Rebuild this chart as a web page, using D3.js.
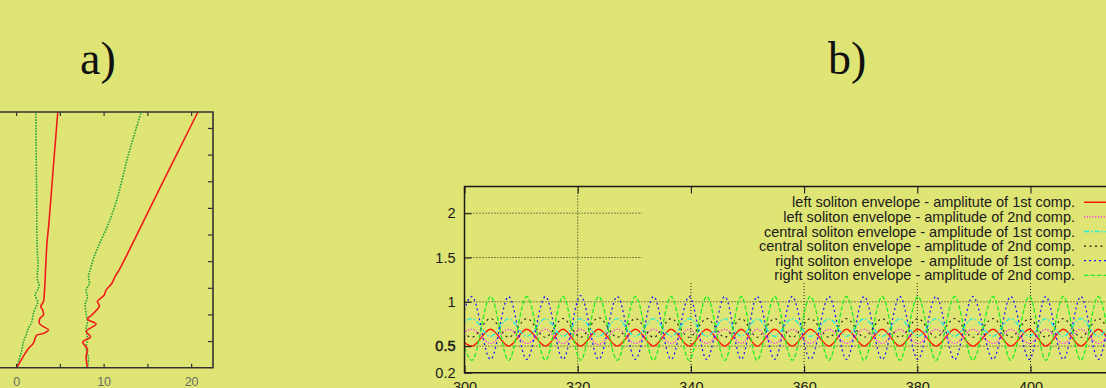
<!DOCTYPE html>
<html>
<head>
<meta charset="utf-8">
<script src="https://cdn.jsdelivr.net/npm/d3@7"></script>
<style>
  html, body { margin: 0; padding: 0; background: #dfe574; overflow: hidden; }
  svg { display: block; }
  text { font-family: "Liberation Sans", Arial, Helvetica, sans-serif; }
  .panel-label { font-family: "Liberation Serif", "Times New Roman", serif; font-size: 46px; fill: #111; }
  .tick-a text { font-size: 12.5px; fill: #6b6b6b; }
  .tick-b text { font-size: 14.5px; fill: #1a1a1a; }
  .legend text { font-size: 14.5px; fill: #1a1a1a; white-space: pre; }
</style>
</head>
<body>
<div id="chart"></div>
<script>
// ---- panel a): soliton trajectories, points are [x, t]
const trajGreenLeft = [[0.07,0],[0.38,1.8],[0.65,3.3],[0.84,4.9],[1.14,6.1],[1.41,7.4],[1.79,8.6],[1.98,10.2],
  [2.29,11.5],[2.48,12.4],[2.17,13.6],[2.44,14.6],[2.63,15.5],[2.44,16.5],[2.44,18.0],[2.51,19.3],[2.44,21.2],
  [2.38,24.3],[2.36,28],[2.33,34],[2.29,41],[2.25,48]];
const trajRedLeft = [[0.07,0],[0.46,1.1],[1.03,2.7],[1.41,3.6],[1.98,4.6],[2.17,5.5],[2.36,6.1],[3.05,6.4],
  [3.69,7.1],[3.12,7.7],[2.67,8.3],[2.74,9.3],[3.12,9.9],[3.05,10.8],[2.82,11.5],[3.12,12.4],[3.24,14.3],
  [3.39,19.3],[3.54,23.7],[3.73,26.8],[4.24,37.4],[4.76,48]];
const trajGreenRight = [[8.15,0],[8.27,1.8],[8.0,3.6],[8.15,5.5],[8.0,7.4],[8.15,8.6],[8.0,10.2],[7.89,11.8],
  [8.15,13.3],[8.0,14.6],[8.38,15.8],[8.27,17.1],[8.53,18.7],[8.84,20.5],[9.3,22.4],[9.9,24.6],[10.6,27.2],
  [11.5,31.5],[12.8,39.8],[14.29,48]];
const trajRedRight = [[8.15,0],[8.0,2.1],[8.15,3.5],[7.62,4.8],[8.5,5.8],[8.0,6.8],[9.14,8.2],[8.15,9.1],
  [8.65,9.9],[9.52,11.6],[9.29,12.4],[10.06,13.6],[10.29,14.6],[10.93,15.8],[11.31,17.1],[11.89,18.7],
  [16.3,33.3],[20.77,48]];
const aTicksX = [0, 5, 10, 15, 20];
const aLabelsX = [0, 10, 20];
const aTicksY = [5, 10, 15, 20, 25, 30, 35, 40, 45];

// ---- panel b): envelope amplitudes at the extrema (t values shared by all six curves)
const tExtrema = [298.1, 301.3, 304.6, 307.8, 311.0, 314.3, 317.4, 320.5, 323.7, 327.0, 330.2, 333.4, 336.5, 339.7,
  342.8, 346.0, 348.9, 351.7, 354.8, 357.9, 361.1, 364.4, 367.5, 370.6, 373.8, 376.9, 380.1, 383.3, 386.6, 389.8,
  393.4, 396.5, 399.8, 402.7, 405.8, 408.9, 412.0, 415.1, 418.2, 421.3];
const leftAmp1 = [0.69,0.50,0.69,0.50,0.69,0.50,0.69,0.50,0.69,0.50,0.69,0.50,0.69,0.50,0.69,0.50,0.69,0.50,0.69,0.50,
  0.69,0.50,0.69,0.50,0.69,0.50,0.69,0.50,0.69,0.50,0.69,0.50,0.69,0.50,0.69,0.50,0.69,0.50,0.69,0.50];
const leftAmp2 = [0.53,0.69,0.53,0.69,0.53,0.69,0.53,0.69,0.52,0.69,0.53,0.69,0.53,0.69,0.53,0.69,0.53,0.69,0.53,0.69,
  0.53,0.69,0.53,0.69,0.53,0.69,0.53,0.69,0.53,0.69,0.53,0.69,0.53,0.69,0.53,0.69,0.53,0.69,0.53,0.69];
const centralAmp1 = [0.61,0.81,0.61,0.81,0.61,0.81,0.61,0.81,0.61,0.81,0.61,0.81,0.61,0.81,0.61,0.81,0.61,0.81,0.61,0.81,
  0.61,0.81,0.61,0.81,0.61,0.81,0.61,0.81,0.61,0.81,0.61,0.81,0.61,0.81,0.61,0.81,0.61,0.81,0.61,0.81];
const centralAmp2 = [0.81,0.60,0.81,0.60,0.81,0.60,0.81,0.60,0.82,0.60,0.81,0.60,0.81,0.60,0.81,0.60,0.81,0.60,0.81,0.60,
  0.81,0.60,0.81,0.60,0.81,0.60,0.81,0.60,0.81,0.60,0.81,0.60,0.81,0.60,0.81,0.60,0.81,0.60,0.81,0.60];
const rightAmp1 = [0.35,1.06,0.35,1.06,0.35,1.06,0.35,1.07,0.35,1.06,0.35,1.06,0.35,1.06,0.35,1.06,0.35,1.06,0.35,1.06,
  0.35,1.06,0.35,1.06,0.35,1.06,0.35,1.06,0.35,1.06,0.35,1.06,0.35,1.06,0.35,1.06,0.35,1.06,0.35,1.06];
const rightAmp2 = [1.06,0.34,1.06,0.34,1.06,0.34,1.06,0.34,1.06,0.34,1.06,0.34,1.06,0.34,1.06,0.34,1.06,0.34,1.06,0.34,
  1.06,0.34,1.06,0.34,1.06,0.34,1.06,0.34,1.06,0.34,1.06,0.34,1.06,0.34,1.06,0.34,1.06,0.34,1.06,0.34];
const bTicksX = [300, 320, 340, 360, 380, 400, 420];
const bTicksY = [0.2, 0.5, 1, 1.5, 2];
const legendNames = [
  "left soliton envelope - amplitute of 1st comp.",
  "left soliton envelope - amplitude of 2nd comp.",
  "central soliton envelope - amplitude of 1st comp.",
  "central soliton envelope - amplitude of 2nd comp.",
  "right soliton envelope  - amplitude of 1st comp.",
  "right soliton envelope - amplitude of 2nd comp."
];

const W = 1106, H = 388;
const svg = d3.select('#chart').append('svg').attr('width', W).attr('height', H);

svg.append('text').attr('class', 'panel-label').attr('x', 80).attr('y', 74).text('a)');
svg.append('text').attr('class', 'panel-label').attr('x', 828).attr('y', 74).text('b)');

// ================= panel a =================
const xA = d3.scaleLinear().domain([-2.5, 22.5]).range([-5.75, 213]);
const yA = d3.scaleLinear().domain([0, 48]).range([367.7, 112]);
const gA = svg.append('g');

const lineA = d3.line().x(d => xA(d[0])).y(d => yA(d[1])).curve(d3.curveCatmullRom.alpha(0.5));
[
  { data: trajGreenLeft, color: '#23a83a', dash: '1.6,1.2' },
  { data: trajRedLeft, color: '#f01c1c', dash: null },
  { data: trajGreenRight, color: '#23a83a', dash: '1.6,1.2' },
  { data: trajRedRight, color: '#f01c1c', dash: null }
].forEach(s => {
  gA.append('path').attr('d', lineA(s.data)).attr('fill', 'none')
    .attr('stroke', s.color).attr('stroke-width', 1.6)
    .attr('stroke-dasharray', s.dash);
});

const axA = [
  d3.axisBottom(xA).tickValues(aTicksX).tickSizeInner(-4).tickSizeOuter(0).tickPadding(9)
    .tickFormat(d => aLabelsX.includes(d) ? d : ''),
  d3.axisTop(xA).tickValues(aTicksX).tickSizeInner(-4).tickSizeOuter(0).tickFormat(''),
  d3.axisRight(yA).tickValues(aTicksY).tickSizeInner(-5).tickSizeOuter(0).tickFormat('')
];
gA.append('g').attr('class', 'tick-a').attr('transform', 'translate(0,367.7)').call(axA[0]);
gA.append('g').attr('class', 'tick-a').attr('transform', 'translate(0,112)').call(axA[1]);
gA.append('g').attr('class', 'tick-a').attr('transform', 'translate(213,0)').call(axA[2]);
gA.selectAll('.domain').remove();
gA.selectAll('.tick line').attr('stroke', '#333').attr('stroke-width', 1.2);
gA.append('path')
  .attr('d', `M${xA.range()[0]},${yA(48)}H${xA(22.5)}V${yA(0)}H${xA.range()[0]}`)
  .attr('fill', 'none').attr('stroke', '#333').attr('stroke-width', 1.6);

// ================= panel b =================
const xB = d3.scaleLinear().domain([300, 420]).range([464.5, 1143.7]);
const yB = d3.scaleLinear().domain([0.2, 2.3]).range([372.7, 186.6]);
const gB = svg.append('g');
const keyLeft = 642, keyBottom = 283;

svg.append('clipPath').attr('id', 'clipB').append('rect')
  .attr('x', xB(300)).attr('y', yB(2.3)).attr('width', xB(420) - xB(300)).attr('height', yB(0.2) - yB(2.3));

// grid, kept out of the key area
const grid = gB.append('g').attr('stroke', '#222').attr('stroke-width', 1).attr('stroke-dasharray', '1,2');
bTicksY.filter(v => v > 0.2).forEach(v => {
  const y = yB(v);
  grid.append('line').attr('x1', xB(300)).attr('x2', y < keyBottom ? keyLeft : W).attr('y1', y).attr('y2', y);
});
bTicksX.filter(v => v > 300).forEach(v => {
  const x = xB(v);
  grid.append('line').attr('x1', x).attr('x2', x).attr('y1', x > keyLeft ? keyBottom : yB(2.3)).attr('y2', yB(0.2));
});

const series = [
  { data: leftAmp1, color: '#ff1a00', dash: null, w: 1.4 },
  { data: leftAmp2, color: '#ff22ff', dash: '1.2,1.6', w: 1.3 },
  { data: centralAmp1, color: '#22eedd', dash: '5,2,1.5,2', w: 1.4 },
  { data: centralAmp2, color: '#1a1a1a', dash: '2,3.5', w: 1.1 },
  { data: rightAmp1, color: '#1a1aff', dash: '2,3', w: 1.3 },
  { data: rightAmp2, color: '#22ee22', dash: '4.5,2', w: 1.3 }
];

const lineB = d3.line().x(d => xB(d.t)).y(d => yB(d.v)).curve(d3.curveMonotoneX);
const plotB = gB.append('g').attr('clip-path', 'url(#clipB)');
series.forEach(s => {
  const pts = tExtrema.map((t, i) => ({ t: t, v: s.data[i] }));
  plotB.append('path').attr('d', lineB(pts)).attr('fill', 'none')
    .attr('stroke', s.color).attr('stroke-width', s.w).attr('stroke-dasharray', s.dash);
});

// axes
const axBx = d3.axisBottom(xB).tickValues(bTicksX).tickSizeInner(-7).tickSizeOuter(0).tickPadding(9).tickFormat(d => d);
const axBxTop = d3.axisTop(xB).tickValues(bTicksX).tickSizeInner(-7).tickSizeOuter(0).tickFormat('');
const axBy = d3.axisLeft(yB).tickValues(bTicksY).tickSizeInner(-7).tickSizeOuter(0).tickPadding(9).tickFormat(d => d);
gB.append('g').attr('class', 'tick-b').attr('transform', `translate(0,${yB(0.2)})`).call(axBx);
gB.append('g').attr('class', 'tick-b').attr('transform', `translate(0,${yB(2.3)})`).call(axBxTop);
const yAxisG = gB.append('g').attr('class', 'tick-b').attr('transform', `translate(${xB(300)},0)`).call(axBy);
yAxisG.selectAll('text').filter(d => d === 0.5).attr('stroke', '#1a1a1a').attr('stroke-width', 0.5);
gB.selectAll('.domain').remove();
gB.selectAll('.tick line').attr('stroke', '#1a1a1a').attr('stroke-width', 1.1);
gB.append('path')
  .attr('d', `M${xB(420)},${yB(2.3)}H${xB(300)}V${yB(0.2)}H${xB(420)}`)
  .attr('fill', 'none').attr('stroke', '#1a1a1a').attr('stroke-width', 1.5);

// key
const legend = gB.append('g').attr('class', 'legend');
legendNames.forEach((name, i) => {
  const y = 202.3 + i * 14.6;
  legend.append('text').attr('x', 1075).attr('y', y).attr('dy', '0.35em')
    .attr('text-anchor', 'end').text(name);
  legend.append('line').attr('x1', 1084).attr('x2', 1130).attr('y1', y).attr('y2', y)
    .attr('stroke', series[i].color).attr('stroke-width', series[i].w)
    .attr('stroke-dasharray', series[i].dash);
});
</script>
</body>
</html>
